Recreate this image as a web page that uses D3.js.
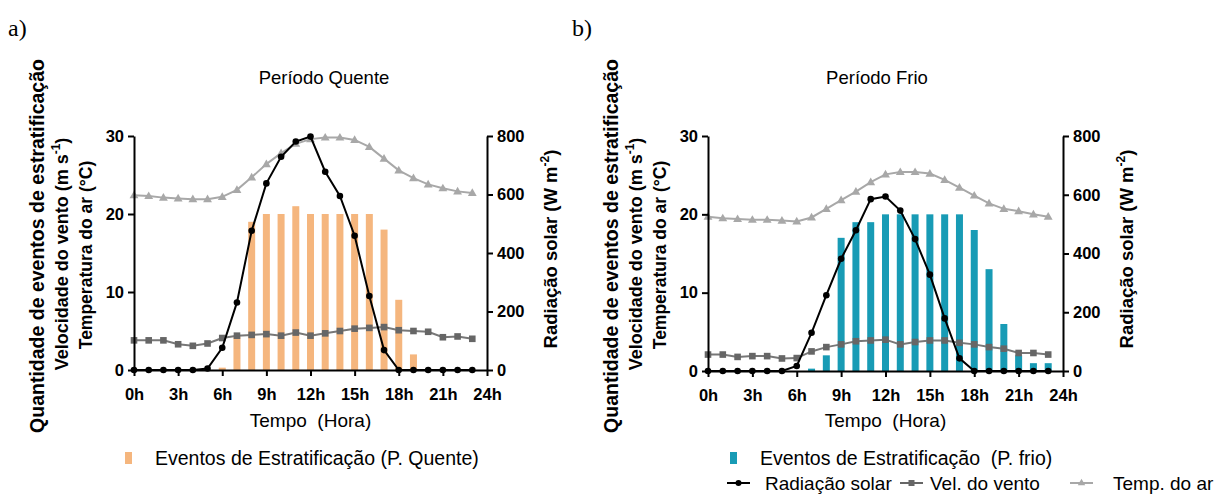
<!DOCTYPE html>
<html lang="pt">
  <head>
    <meta charset="UTF-8" />
    <title>Eventos de estratificação - períodos quente e frio</title>
    <script src="https://d3js.org/d3.v7.min.js"></script>
    <style>
      body {
        margin: 0;
        background: #fff;
        font-family: "Liberation Sans", Arial, sans-serif;
      }
      svg text {
        font-family: "Liberation Sans", Arial, sans-serif;
      }
    </style>
  </head>
  <body>
    <svg id="chart" width="1220" height="498"></svg>

    <script>
      // hours of the day (points and bars sit on whole hours)
      const hours = [0, 1, 2, 3, 4, 5, 6, 7, 8, 9, 10, 11, 12, 13, 14, 15, 16, 17, 18, 19, 20, 21, 22, 23];
      const xTicks = [0, 3, 6, 9, 12, 15, 18, 21, 24];
      const leftTicks = [0, 10, 20, 30];
      const rightTicks = [0, 200, 400, 600, 800];

      // Período Quente
      const eventsQuente = [0, 0, 0, 0, 0, 0, 0.3, 4.3, 19, 20, 20, 21, 20, 20, 20, 20, 20, 18, 9, 2, 0, 0, 0, 0];
      const radQuente = [0, 0, 0, 0, 0, 5, 76, 231, 476, 638, 729, 781, 798, 678, 595, 459, 253, 68, 0, 0, 0, 0, 0, 0];
      const windQuente = [3.8, 3.8, 3.8, 3.3, 3.1, 3.4, 4.1, 4.4, 4.5, 4.6, 4.4, 4.8, 4.4, 4.7, 5.0, 5.3, 5.4, 5.5, 5.1, 5.0, 4.9, 4.2, 4.3, 4.0];
      const tempQuente = [22.4, 22.3, 22.1, 22.0, 21.9, 21.9, 22.2, 23.1, 24.7, 26.4, 27.8, 29.0, 29.6, 29.8, 29.8, 29.5, 28.6, 27.1, 25.6, 24.6, 23.8, 23.3, 22.9, 22.7];

      // Período Frio
      const eventsFrio = [0, 0, 0, 0, 0, 0, 0, 0.3, 2, 17, 19, 19, 20, 20, 20, 20, 20, 20, 18, 13, 6, 2, 1, 1];
      const radFrio = [0, 0, 0, 0, 0, 0, 17, 130, 258, 382, 479, 585, 594, 546, 449, 328, 179, 43, 0, 0, 0, 0, 0, 0];
      const windFrio = [2.1, 2.1, 1.8, 1.9, 1.9, 1.6, 1.65, 2.5, 3.05, 3.4, 3.8, 3.9, 4.0, 3.4, 3.7, 3.9, 3.9, 3.6, 3.4, 3.05, 2.85, 2.3, 2.3, 2.1];
      const tempFrio = [19.7, 19.5, 19.4, 19.3, 19.3, 19.2, 19.1, 19.6, 20.7, 21.8, 22.9, 24.1, 25.1, 25.4, 25.4, 25.2, 24.4, 23.4, 22.4, 21.4, 20.7, 20.4, 20.0, 19.7];

      const colors = {
        quente: "#f5b67e",
        frio: "#189bb5",
        rad: "#000000",
        wind: "#666666",
        temp: "#a8a8a8",
      };

      const svg = d3.select("#chart");
      const tri = d3.symbol().type(d3.symbolTriangle).size(34);

      function drawPanel(cfg) {
        const g = svg.append("g");
        const x = d3.scaleLinear().domain([0, 24]).range([cfg.x0, cfg.x1]);
        const yL = d3.scaleLinear().domain([0, 30]).range([cfg.y1, cfg.y0]);
        const yR = d3.scaleLinear().domain([0, 800]).range([cfg.y1, cfg.y0]);

        // bars
        g.selectAll(".bar")
          .data(hours.filter((h) => cfg.events[h] > 0))
          .enter()
          .append("rect")
          .attr("x", (h) => x(h) - 3.5)
          .attr("width", 7)
          .attr("y", (h) => yL(cfg.events[h]))
          .attr("height", (h) => yL(0) - yL(cfg.events[h]))
          .attr("fill", cfg.barColor);

        // temperature
        g.append("path")
          .datum(hours)
          .attr("fill", "none")
          .attr("stroke", colors.temp)
          .attr("stroke-width", 2)
          .attr("d", d3.line().x((h) => x(h)).y((h) => yL(cfg.temp[h])));
        g.selectAll(".tri")
          .data(hours)
          .enter()
          .append("path")
          .attr("d", tri)
          .attr("fill", colors.temp)
          .attr("transform", (h) => `translate(${x(h)},${yL(cfg.temp[h]) + 0.5})`);

        // wind
        g.append("path")
          .datum(hours)
          .attr("fill", "none")
          .attr("stroke", "#777")
          .attr("stroke-width", 2)
          .attr("d", d3.line().x((h) => x(h)).y((h) => yL(cfg.wind[h])));
        g.selectAll(".sq")
          .data(hours)
          .enter()
          .append("rect")
          .attr("x", (h) => x(h) - 3.3)
          .attr("y", (h) => yL(cfg.wind[h]) - 3.3)
          .attr("width", 6.6)
          .attr("height", 6.6)
          .attr("fill", colors.wind);

        // radiation (right axis)
        g.append("path")
          .datum(hours)
          .attr("fill", "none")
          .attr("stroke", colors.rad)
          .attr("stroke-width", 2)
          .attr("d", d3.line().x((h) => x(h)).y((h) => yR(cfg.rad[h])));
        g.selectAll(".dot")
          .data(hours)
          .enter()
          .append("circle")
          .attr("cx", (h) => x(h))
          .attr("cy", (h) => yR(cfg.rad[h]))
          .attr("r", 3.3)
          .attr("fill", colors.rad);

        // axes
        const axL = g.append("g")
          .attr("transform", `translate(${cfg.x0},0)`)
          .call(d3.axisLeft(yL).tickValues(leftTicks).tickSize(6).tickSizeOuter(0).tickPadding(4));
        const axR = g.append("g")
          .attr("transform", `translate(${cfg.x1},0)`)
          .call(d3.axisRight(yR).tickValues(rightTicks).tickSize(6).tickSizeOuter(0).tickPadding(4));
        const axB = g.append("g")
          .attr("transform", `translate(0,${cfg.y1})`)
          .call(d3.axisBottom(x).tickValues(xTicks).tickFormat((d) => d + "h").tickSize(6).tickSizeOuter(0).tickPadding(12));

        [axL, axR, axB].forEach((ax) => {
          ax.select(".domain").attr("stroke", "#000").attr("stroke-width", 2);
          ax.selectAll(".tick line").attr("stroke", "#000").attr("stroke-width", 2);
          ax.selectAll(".tick text")
            .attr("fill", "#000")
            .style("font-size", "16.5px")
            .style("font-weight", "bold")
            .style("font-family", "'Liberation Sans', Arial, sans-serif");
        });

        // title
        g.append("text")
          .attr("x", cfg.titleX)
          .attr("y", 84)
          .attr("text-anchor", "middle")
          .style("font-size", "18.5px")
          .text(cfg.title);

        // x label
        g.append("text")
          .attr("x", (cfg.x0 + cfg.x1) / 2)
          .attr("y", 427)
          .attr("text-anchor", "middle")
          .style("font-size", "19px")
          .text("Tempo\u00a0 (Hora)");

        // left y label (three lines)
        const yl = g.append("text")
          .attr("transform", `translate(${cfg.x0 - 97},250) rotate(-90)`)
          .attr("text-anchor", "middle")
          .style("font-weight", "bold");
        yl.append("tspan").attr("x", 4).attr("dy", 6.5)
          .style("font-size", "19.5px").text("Quantidade de eventos de estratificação");
        const l2 = yl.append("tspan").attr("x", -4).attr("dy", 24.5).style("font-size", "18px");
        l2.append("tspan").text("Velocidade do vento (m s");
        l2.append("tspan").attr("dy", -8).style("font-size", "12px").text("-1");
        l2.append("tspan").attr("dy", 8).text(")");
        yl.append("tspan").attr("x", -5).attr("dy", 23.5)
          .style("font-size", "17.5px").text("Temperatura do ar (°C)");

        // right y label
        const yr = g.append("text")
          .attr("transform", `translate(${cfg.x1 + 63},249) rotate(-90)`)
          .attr("text-anchor", "middle")
          .style("font-size", "18.5px")
          .style("font-weight", "bold");
        yr.append("tspan").attr("dy", 6.5).text("Radiação solar (W m");
        yr.append("tspan").attr("dy", -8).style("font-size", "12px").text("-2");
        yr.append("tspan").attr("dy", 8).text(")");

        // bar legend
        g.append("rect")
          .attr("x", cfg.legX)
          .attr("y", 452)
          .attr("width", 7)
          .attr("height", 12)
          .attr("fill", cfg.barColor);
        g.append("text")
          .attr("x", cfg.legX + 30)
          .attr("y", 465)
          .style("font-size", "19.5px")
          .text(cfg.legText);
      }

      drawPanel({
        x0: 134, x1: 487, y0: 136, y1: 370,
        events: eventsQuente, rad: radQuente, wind: windQuente, temp: tempQuente,
        barColor: colors.quente, title: "Período Quente", titleX: 324,
        legX: 125, legText: "Eventos de Estratificação (P. Quente)",
      });
      drawPanel({
        x0: 708, x1: 1063, y0: 136, y1: 371,
        events: eventsFrio, rad: radFrio, wind: windFrio, temp: tempFrio,
        barColor: colors.frio, title: "Período Frio", titleX: 877,
        legX: 730, legText: "Eventos de Estratificação\u00a0 (P. frio)",
      });

      // panel letters
      svg.append("text").attr("x", 8).attr("y", 36)
        .style("font-family", "'Liberation Serif', serif").style("font-size", "24px").text("a)");
      svg.append("text").attr("x", 572).attr("y", 36)
        .style("font-family", "'Liberation Serif', serif").style("font-size", "24px").text("b)");

      // shared line legend
      const leg = svg.append("g").attr("transform", "translate(0,483)");
      const items = [
        { x: 727, tx: 765, label: "Radiação solar", color: colors.rad, mark: "circle" },
        { x: 900, tx: 930, label: "Vel. do vento", color: colors.wind, mark: "square" },
        { x: 1070, tx: 1113, label: "Temp. do ar", color: colors.temp, mark: "tri" },
      ];
      items.forEach((it) => {
        leg.append("line")
          .attr("x1", it.x).attr("x2", it.x + 23)
          .attr("y1", 0).attr("y2", 0)
          .attr("stroke", it.color).attr("stroke-width", 2);
        if (it.mark === "circle") {
          leg.append("circle").attr("cx", it.x + 11.5).attr("cy", 0).attr("r", 3).attr("fill", it.color);
        } else if (it.mark === "square") {
          leg.append("rect").attr("x", it.x + 8.5).attr("y", -3).attr("width", 6).attr("height", 6).attr("fill", it.color);
        } else {
          leg.append("path").attr("d", d3.symbol().type(d3.symbolTriangle).size(24)).attr("transform", `translate(${it.x + 11.5},0)`).attr("fill", it.color);
        }
        leg.append("text")
          .attr("x", it.tx)
          .attr("y", 6.5)
          .style("font-size", "19px")
          .text(it.label);
      });
    </script>
  </body>
</html>
